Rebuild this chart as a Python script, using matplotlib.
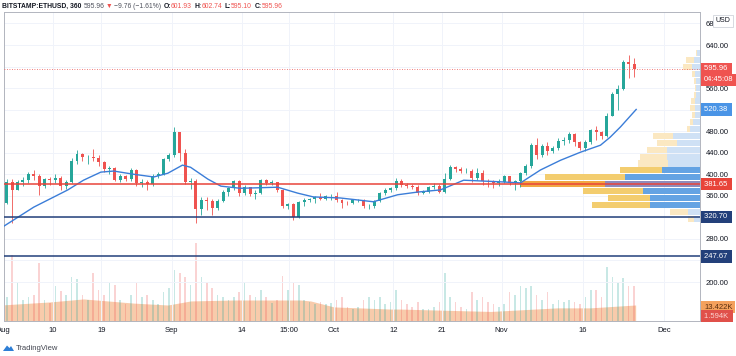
import numpy as np
import matplotlib.pyplot as plt
from matplotlib.patches import Rectangle, Polygon
from matplotlib.transforms import blended_transform_factory

plt.rcParams['font.family'] = ['Liberation Sans', 'DejaVu Sans']

# daily candles, day 0 = Aug 1 2020 ... day 116 = Nov 25 2020
first_open = 346
closes = [386, 371, 386, 389, 401, 396, 379, 391, 390, 394,
          378, 386, 425, 437, 432, 432, 430, 423, 409, 412,
          390, 396, 391, 408, 383, 385, 382, 397, 400, 428,
          435, 478, 440, 386, 388, 336, 353, 351, 337, 351,
          368, 374, 387, 365, 377, 364, 365, 389, 384, 385,
          370, 341, 344, 321, 349, 352, 354, 357, 355, 359,
          359, 353, 347, 346, 352, 353, 341, 341, 351, 365,
          370, 374, 387, 381, 379, 377, 366, 368, 377, 379,
          368, 392, 413, 410, 406, 406, 393, 403, 388, 387,
          383, 386, 396, 383, 387, 402, 415, 454, 435, 453,
          444, 449, 462, 463, 475, 460, 448, 460, 482, 479,
          471, 509, 549, 558, 609, 604, 596]
highs = [392, 392, 390, 395, 404, 408, 400, 394, 395, 400,
         396, 390, 430, 446, 440, 436, 447, 435, 425, 416,
         414, 400, 398, 412, 410, 392, 390, 400, 405, 430,
         440, 488, 478, 447, 394, 392, 357, 357, 354, 354,
         370, 377, 389, 389, 381, 376, 370, 391, 392, 390,
         386, 372, 347, 346, 351, 356, 356, 360, 365, 362,
         363, 368, 355, 350, 354, 355, 355, 345, 352, 368,
         374, 377, 393, 391, 384, 382, 380, 370, 379, 384,
         382, 402, 418, 416, 414, 412, 409, 411, 408, 392,
         389, 391, 398, 397, 389, 405, 420, 458, 468, 456,
         460, 452, 468, 470, 478, 476, 462, 464, 485, 490,
         481, 514, 553, 565, 612, 622, 616]
lows = [345, 310, 370, 378, 383, 390, 362, 375, 380, 383,
        370, 372, 384, 420, 425, 420, 425, 415, 405, 400,
        388, 385, 387, 388, 378, 376, 370, 378, 393, 398,
        425, 432, 425, 382, 372, 310, 325, 333, 325, 333,
        348, 360, 371, 360, 362, 360, 355, 363, 380, 380,
        368, 338, 335, 315, 318, 342, 348, 347, 352, 352,
        352, 348, 338, 343, 345, 348, 337, 336, 338, 348,
        362, 368, 370, 376, 374, 372, 362, 364, 366, 373,
        365, 366, 390, 405, 402, 402, 386, 390, 381, 376,
        374, 379, 384, 380, 371, 376, 398, 412, 428, 432,
        436, 440, 446, 455, 458, 452, 445, 444, 456, 464,
        466, 470, 508, 520, 556, 578, 580]

# moving average
ma_days = [-0.6, 5.5, 11.8, 14.7, 17.9, 20.3, 24.0, 27.7, 30.3, 33.0,
           34.5, 37.7, 40.1, 43.7, 50.6, 54.3, 57.2, 62.2, 68.3, 72.8,
           76.5, 80.7, 85.0, 91.8, 95.5, 99.2, 102.9, 106.6, 110.3, 112.1,
           114.0, 116.9]
ma_vals = [300, 339, 371, 389, 404, 406, 400, 395, 402, 417,
           413, 391, 378, 374, 376, 365, 358, 356, 349, 362,
           367, 371, 389, 386, 384, 408, 426, 441, 454, 469,
           488, 520.38]

# volume (K) per day and its moving average
volume = [20, 55, 33, 18, 20, 22, 49, 18, 15, 29,
          25, 22, 37, 35, 22, 18, 40, 26, 22, 32,
          30, 18, 14, 22, 32, 20, 22, 18, 14, 24,
          28, 43, 40, 37, 30, 65, 37, 33, 28, 22,
          20, 18, 20, 24, 33, 22, 20, 26, 20, 15,
          18, 38, 26, 32, 30, 18, 16, 14, 16, 14,
          15, 18, 20, 12, 10, 12, 18, 20, 18, 20,
          14, 16, 26, 18, 14, 12, 16, 10, 10, 12,
          16, 40, 20, 16, 12, 10, 24, 18, 20, 16,
          14, 12, 14, 24, 22, 29, 28, 29, 22, 18,
          24, 14, 18, 16, 18, 16, 14, 20, 26, 26,
          20, 45, 37, 32, 36, 29, 29]
volma_days = [-0.6, 8.6, 14.7, 24.0, 30.3, 34.5, 42.5, 54.8, 56.7, 61.0,
              71.5, 73.3, 90.0, 102.3, 108.4, 116.8]
volma_vals = [13.4, 16.0, 18.5, 15.0, 13.4, 16.8, 17.6, 17.6, 16.8, 11.8,
              10.0, 10.0, 8.0, 11.0, 11.0, 13.422]

# visible range volume profile (K)
profile_prices = [317.65, 330.45, 343.25, 356.05, 368.85, 381.65, 394.45, 407.25,
                  420.05, 432.85, 445.65, 458.45, 471.25, 484.05, 496.85, 509.65,
                  522.45, 535.25, 548.05, 560.85, 573.65, 586.45, 599.25, 612.05, 624.85]
profile_up = [30, 60, 250, 250, 285, 475, 375, 190, 160, 165, 165, 115, 135,
              50, 35, 25, 25, 25, 20, 20, 20, 25, 40, 30, 15]
profile_down = [30, 90, 290, 210, 300, 425, 400, 210, 150, 135, 100, 100, 100,
                15, 15, 15, 25, 20, 10, 5, 10, 15, 45, 40, 5]
value_area = (343.25, 407.25)
poc = 381.65

last_price = 595.96
levels = [320.70, 247.67]

tick_days = [0, 9, 18, 31, 44, 52.625, 61, 72, 81, 92, 107, 122]
tick_labels = ['Aug', '10', '19', 'Sep', '14', '15:00', 'Oct', '12', '21', 'Nov', '16', 'Dec']
price_ticks = [200, 240, 280, 320, 360, 400, 440, 480, 520, 560, 600, 640, 680]

up_col = '#26a69a'
dn_col = '#ef5350'
W, H = 736, 356

fig = plt.figure(figsize=(W / 100, H / 100), dpi=100)
fig.patch.set_facecolor('white')

axv = fig.add_axes([4 / W, 35 / H, 696 / W, 309 / H])
ax = fig.add_axes([4 / W, 35 / H, 696 / W, 309 / H], sharex=axv)
ax.set_zorder(2)
ax.patch.set_visible(False)
axv.set_zorder(1)

ax.set_xlim(0, 128.7)
ax.set_ylim(127.6, 701.3)
axv.set_ylim(0, 259)
axv.axis('off')

# volume pane
x_days = np.arange(len(closes)) + 0.5
opens = [first_open] + closes[:-1]
axv.fill_between(volma_days, 0, volma_vals, color='#f7c29c', alpha=0.85, lw=0)
vcols = [up_col if c >= o else dn_col for o, c in zip(opens, closes)]
axv.bar(x_days, volume, width=0.3, color=vcols, alpha=0.25, lw=0)

# grid
for p in price_ticks:
    ax.axhline(p, color='#f0f3fa', lw=0.7, zorder=0)
for d in tick_days:
    ax.axvline(d, color='#f0f3fa', lw=0.7, zorder=0)

# volume profile
tr = blended_transform_factory(ax.transAxes, ax.transData)
scale = (profile_up[5] + profile_down[5]) / 0.2586
row_h = 12.8 * 0.88
for p, u, d in zip(profile_prices, profile_up, profile_down):
    inside = value_area[0] <= p <= value_area[1]
    if p == poc:
        bc, yc = '#8e8cbb', '#f2a742'
    elif inside:
        bc, yc = '#64a3e3', '#f3cd6f'
    else:
        bc, yc = '#cfe1f5', '#fbe8c2'
    ax.add_patch(Rectangle((1 - u / scale, p - row_h / 2), u / scale, row_h,
                           transform=tr, color=bc, lw=0, zorder=1))
    ax.add_patch(Rectangle((1 - (u + d) / scale, p - row_h / 2), d / scale, row_h,
                           transform=tr, color=yc, lw=0, zorder=1))

# candles
for x, o, h, l, c in zip(x_days, opens, highs, lows, closes):
    col = up_col if c >= o else dn_col
    ax.vlines(x, l, h, color=col, lw=0.6, zorder=3)
    ax.bar(x, max(abs(c - o), 0.8), bottom=min(o, c), width=0.55, color=col, lw=0, zorder=3)

ax.plot(ma_days, ma_vals, color='#3b7dd8', lw=1.0, zorder=4)

ax.axhline(poc, color='#e8443a', lw=1.1, zorder=5)
for lv in levels:
    ax.axhline(lv, color='#23407a', lw=1.1, zorder=5)
ax.axhline(last_price, color='#ef5350', lw=0.6, ls=(0, (1, 2)), zorder=5)

# axes styling
for s in ['left', 'right', 'bottom', 'top']:
    ax.spines[s].set_color('#b2b5be')
    ax.spines[s].set_linewidth(0.7)
ax.yaxis.tick_right()
ax.set_yticks(price_ticks)
ax.set_yticklabels(['%.2f' % p for p in price_ticks])
ax.set_xticks(tick_days)
ax.set_xticklabels(tick_labels)
ax.tick_params(axis='y', length=0, pad=4, labelsize=5.5, labelcolor='#131722')
ax.tick_params(axis='x', length=0, pad=4, labelsize=5.5, labelcolor='#131722')

# price scale labels
def scale_label(y, text, fc, tc='white', tform=None, dy=0):
    ax.annotate(text, xy=(1, y), xycoords=tform or tr, xytext=(3, dy), textcoords='offset points',
                fontsize=5.5, color=tc, ha='left', va='center', annotation_clip=False, zorder=10,
                bbox=dict(boxstyle='square,pad=0.35', fc=fc, ec='none'))

scale_label(last_price, '595.96 ', '#ef5350')
scale_label(last_price, '04:45:08', '#ef5350', dy=-8)
scale_label(ma_vals[-1], '520.38 ', '#4a94e6')
scale_label(poc, '381.65 ', '#e8443a')
scale_label(levels[0], '320.70 ', '#23407a')
scale_label(levels[1], '247.67 ', '#23407a')
vtr = blended_transform_factory(axv.transAxes, axv.transData)
scale_label(volma_vals[-1], '13.422K', '#f4a15d', tc='#5a2f10', tform=vtr, dy=-1.5)
scale_label(1.594, '1.594K ', '#e0504a', tc='#fbd3d0', tform=vtr, dy=2)

fig.text(723 / W, 1 - 21 / H, 'USD', fontsize=5, color='#131722', ha='center', va='center',
         bbox=dict(boxstyle='square,pad=0.4', fc='white', ec='#d1d4dc', lw=0.6), zorder=20)

# header line
fig.canvas.draw()
r = fig.canvas.get_renderer()
pieces = [('BITSTAMP:ETHUSD, 360', '#131722', 'bold'), ('595.96', '#50535e', 'normal'),
          ('\u25bc', '#ef5350', 'normal'), ('\u22129.76 (\u22121.61%)', '#50535e', 'normal'),
          ('O:', '#131722', 'bold'), ('601.93', '#ef5350', 'normal'),
          ('H:', '#131722', 'bold'), ('602.74', '#ef5350', 'normal'),
          ('L:', '#131722', 'bold'), ('595.10', '#ef5350', 'normal'),
          ('C:', '#131722', 'bold'), ('595.96', '#ef5350', 'normal')]
gaps = [2.5, 1.5, 1.5, 2.5, 0, 2.5, 0, 2.5, 0, 2.5, 0, 0]
xp = 1.5
for (txt, col, w), g in zip(pieces, gaps):
    t = fig.text(xp / W, 1 - 6 / H, txt, fontsize=4.9, color=col, fontweight=w,
                 ha='left', va='center')
    bb = t.get_window_extent(renderer=r)
    xp = bb.x1 + g

# TradingView logo
logo = [[3, 351], [7, 345.5], [9.5, 348], [11, 346], [14, 351]]
fig.patches.append(Polygon([[px / W, 1 - py / H] for px, py in logo], closed=True,
                           transform=fig.transFigure, fc='#2e7fd6', ec='none'))
fig.text(16 / W, 1 - 348.5 / H, 'TradingView', fontsize=5.5, color='#434651', ha='left', va='center')

fig.savefig('out.png', dpi=100, facecolor='white')
